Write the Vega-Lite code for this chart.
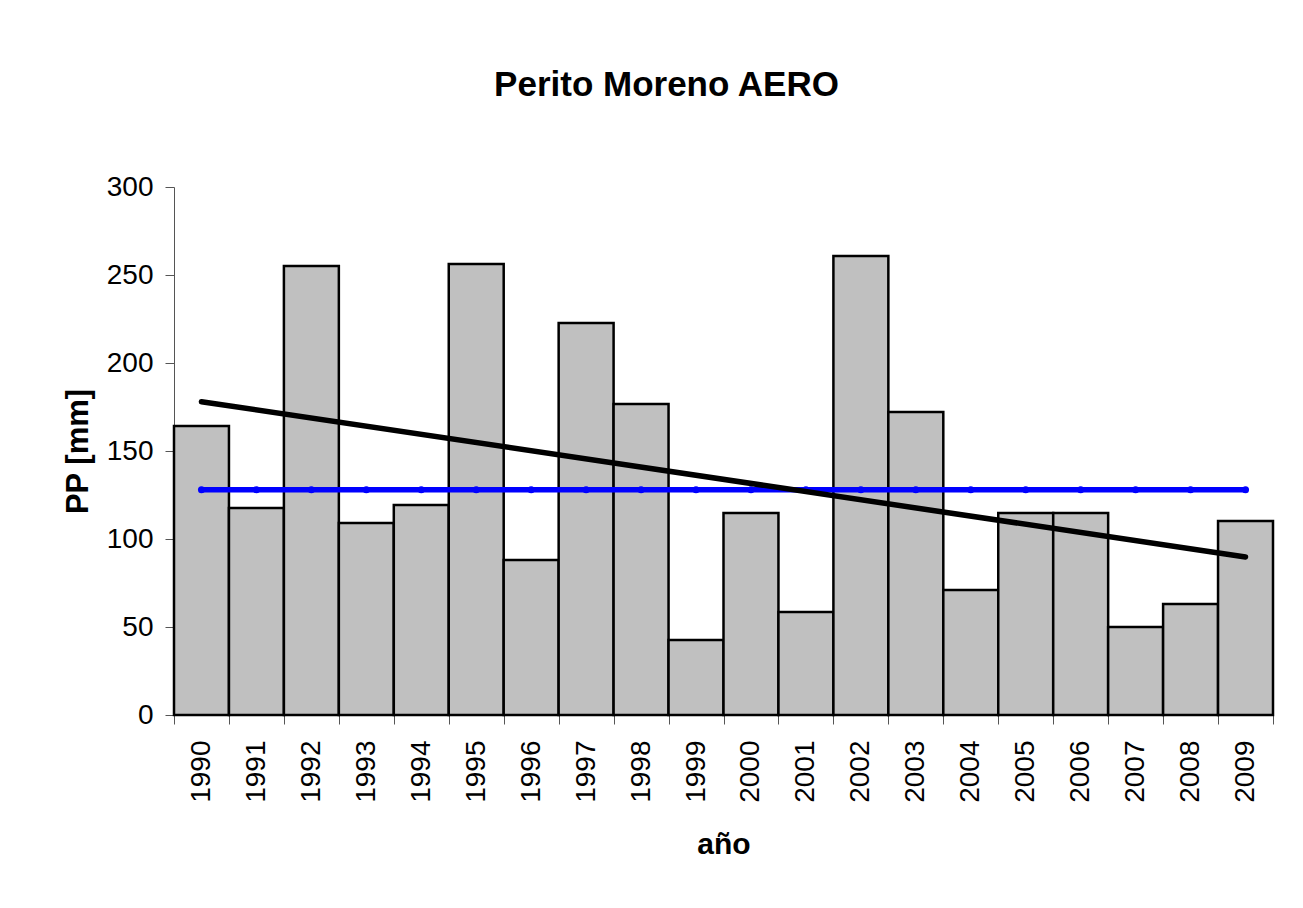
{
  "$schema": "https://vega.github.io/schema/vega-lite/v6.json",
  "width": 1099,
  "height": 528,
  "autosize": {"type": "none"},
  "padding": {"left": 174, "top": 187, "right": 30, "bottom": 193},
  "background": "white",
  "title": {
    "text": "Perito Moreno AERO",
    "font": "Liberation Sans",
    "fontSize": 35,
    "fontWeight": "bold",
    "color": "black",
    "offset": 70,
    "dx": -57
  },
  "datasets": {
    "pp": [
      {"year": "1990", "pp": 164.2, "media": 128},
      {"year": "1991", "pp": 117.6, "media": 128},
      {"year": "1992", "pp": 255.1, "media": 128},
      {"year": "1993", "pp": 109.1, "media": 128},
      {"year": "1994", "pp": 119.3, "media": 128},
      {"year": "1995", "pp": 256.3, "media": 128},
      {"year": "1996", "pp": 88.1, "media": 128},
      {"year": "1997", "pp": 222.7, "media": 128},
      {"year": "1998", "pp": 176.7, "media": 128},
      {"year": "1999", "pp": 42.6, "media": 128},
      {"year": "2000", "pp": 114.8, "media": 128},
      {"year": "2001", "pp": 58.5, "media": 128},
      {"year": "2002", "pp": 260.8, "media": 128},
      {"year": "2003", "pp": 172.2, "media": 128},
      {"year": "2004", "pp": 71.0, "media": 128},
      {"year": "2005", "pp": 114.8, "media": 128},
      {"year": "2006", "pp": 114.8, "media": 128},
      {"year": "2007", "pp": 50.0, "media": 128},
      {"year": "2008", "pp": 63.0, "media": 128},
      {"year": "2009", "pp": 110.2, "media": 128}
    ],
    "trend": [
      {"year": "1990", "trend": 178.0},
      {"year": "2009", "trend": 89.8}
    ]
  },
  "encoding": {
    "x": {
      "field": "year",
      "type": "ordinal",
      "scale": {"paddingInner": 0, "paddingOuter": 0},
      "axis": {
        "title": "año",
        "labelAngle": -90,
        "labelFont": "Liberation Sans",
        "labelFontSize": 28,
        "labelColor": "black",
        "labelPadding": 16,
        "tickBand": "extent",
        "tickSize": 9,
        "tickColor": "#555555",
        "domainColor": "black",
        "titleFont": "Liberation Sans",
        "titleFontSize": 30,
        "titleFontWeight": "bold",
        "titleColor": "black",
        "titlePadding": 27
      }
    }
  },
  "layer": [
    {
      "data": {"name": "pp"},
      "mark": {"type": "bar", "fill": "#C0C0C0", "stroke": "black", "strokeWidth": 2.5},
      "encoding": {
        "y": {
          "field": "pp",
          "type": "quantitative",
          "scale": {"domain": [0, 300], "nice": false},
          "axis": {
            "title": "PP [mm]",
            "values": [0, 50, 100, 150, 200, 250, 300],
            "grid": false,
            "labelFont": "Liberation Sans",
            "labelFontSize": 28,
            "labelColor": "black",
            "labelPadding": 12,
            "tickSize": 9,
            "tickColor": "#555555",
            "domainColor": "#555555",
            "titleFont": "Liberation Sans",
            "titleFontSize": 31,
            "titleFontWeight": "bold",
            "titleColor": "black",
            "titlePadding": 12
          }
        }
      }
    },
    {
      "data": {"name": "pp"},
      "mark": {"type": "line", "color": "#0000FF", "strokeWidth": 5.5, "point": {"filled": true, "color": "#0000FF", "size": 50}},
      "encoding": {
        "y": {"field": "media", "type": "quantitative"}
      }
    },
    {
      "data": {"name": "trend"},
      "mark": {"type": "line", "color": "black", "strokeWidth": 5.5, "strokeCap": "round"},
      "encoding": {
        "y": {"field": "trend", "type": "quantitative"}
      }
    }
  ],
  "config": {
    "view": {"stroke": null}
  }
}
